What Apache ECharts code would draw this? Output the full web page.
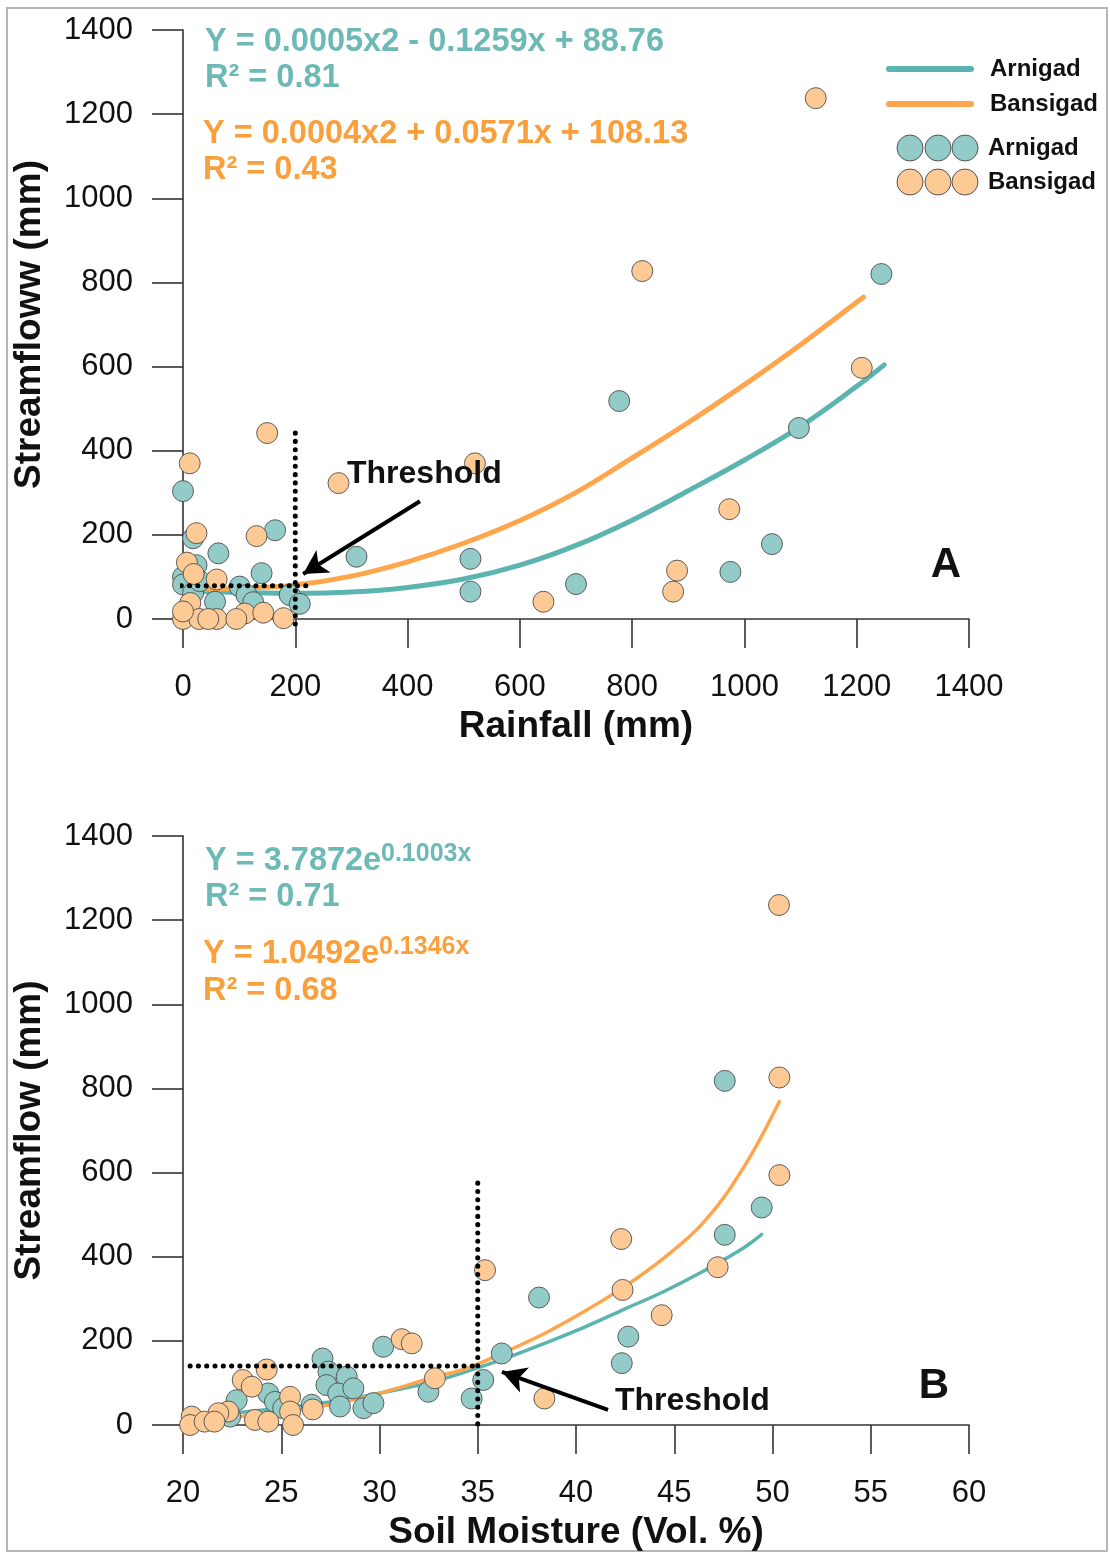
<!DOCTYPE html>
<html><head><meta charset="utf-8">
<script src="https://cdn.jsdelivr.net/npm/echarts@6/dist/echarts.min.js"></script>
<style>html,body{margin:0;padding:0;background:#fff}#c{width:1110px;height:1553px}</style>
</head><body><div id="c"></div>
<script>
// ---------- DATA ----------
// Panel A: Rainfall (mm) vs Streamflow (mm)
const rainArnigad = [[0,304],[164,211],[18,192],[63,156],[24,128],[140,109],[0,100],[0,82],[101,77],[57,41],[113,57],[190,57],[208,36],[18,62],[125,40],[30,90],[309,148],[512,143],[512,65],[700,83],[777,518],[975,112],[1049,178],[1097,454],[1244,820]];
const rainBansigad = [[150,442],[12,370],[131,197],[24,204],[7,134],[19,107],[60,94],[13,38],[0,0],[29,0],[60,0],[110,13],[143,15],[179,2],[95,0],[0,18],[45,0],[277,323],[520,370],[642,41],[818,827],[873,65],[880,115],[973,261],[1127,1238],[1209,597]];
// Trend curves
const rainFitArnigad = [[0,66],[100,63],[200,61],[300,64],[400,75],[500,95],[600,128],[700,175],[800,235],[900,305],[1000,378],[1100,458],[1200,553],[1249,604]];
const rainFitBansigad = [[0,70],[100,73],[200,81],[300,102],[400,136],[500,180],[600,234],[700,301],[800,383],[900,467],[1000,557],[1100,652],[1200,753],[1212,765]];
// Panel B: Soil moisture (Vol. %) vs Streamflow (mm)
const smArnigad = [[30.19,186],[27.1,158],[27.4,127],[28.33,115],[27.3,95],[24.34,75],[22.73,59],[24.68,55],[27.9,75],[28.67,87],[27.99,44],[29.18,40],[29.69,52],[26.55,48],[32.49,79],[35.28,107],[34.69,63],[36.22,170],[22.4,20],[25.1,40],[47.57,818],[49.45,517],[47.57,452],[38.12,303],[42.66,210],[42.33,147]];
const smBansigad = [[35.37,368],[31.13,204],[31.64,194],[24.26,132],[23.04,107],[23.5,91],[25.45,67],[32.82,111],[26.6,37],[25.45,32],[22.3,32],[21.8,28],[20.44,20],[20.36,0],[21.1,8],[21.6,8],[23.66,12],[24.34,8],[25.6,0],[50.35,826],[50.35,594],[42.3,442],[42.37,321],[44.36,261],[47.21,375],[38.39,63],[50.33,1236]];
const smFitArnigad = [[22.5,28],[24.5,38],[26.5,49],[28.5,62],[30.5,80],[32.5,100],[34.5,128],[36.5,160],[38.5,196],[40.5,234],[42.5,276],[44.5,318],[46.5,366],[48.5,420],[49.45,453]];
const smFitBansigad = [[20.3,12],[22.5,19],[24.5,27],[26.5,40],[28.5,58],[30.5,82],[32.5,110],[34.5,136],[36.5,176],[38.5,220],[40.5,272],[42.5,330],[44.5,398],[46.5,482],[48.5,610],[50.35,769]];
// Threshold guides and arrows (axis units)
const thrAh = [[-18,79],[226,79]];
const thrAv = [[200,442],[200,-16]];
const arrowA = [[422,280],[214,107]];
const thrBh = [[20.36,140],[35,140]];
const thrBv = [[35,575],[35,-16]];
const arrowB = [[41.63,36],[36.23,126]];
// Ticks
const rainTicks = {min:0, max:1400, interval:200};
const smTicks = {min:20, max:60, interval:5};
const flowTicks = {min:0, max:1400, interval:200};

// ---------- STYLE ----------
const FONT = '"Liberation Sans", Arial, sans-serif';
const TEAL_FILL = '#93cbc8', ORANGE_FILL = '#fdca95';
const TEAL_LINE = '#5cb4b0', ORANGE_LINE = '#ffa54c';
const TEAL_TXT = '#6cb9b5', ORANGE_TXT = '#f9a03c';
const plain = v => String(v);

function xAx(grid, t, name){
  return {type:'value', gridIndex:grid, min:t.min, max:t.max, interval:t.interval,
    name:name, nameLocation:'middle', nameGap:89,
    nameTextStyle:{fontSize:37, fontWeight:'bold', color:'#111', fontFamily:FONT},
    axisLine:{show:true, onZero:false, lineStyle:{color:'#333', width:1.6}},
    axisTick:{show:true, length:29, lineStyle:{color:'#333', width:1.6}},
    axisLabel:{fontSize:31, color:'#111', fontFamily:FONT, margin:53, formatter:plain},
    splitLine:{show:false}};
}
function yAx(grid, t, name){
  return {type:'value', gridIndex:grid, min:t.min, max:t.max, interval:t.interval,
    name:name, nameLocation:'middle', nameGap:135, nameRotate:90,
    nameTextStyle:{fontSize:37, fontWeight:'bold', color:'#111', fontFamily:FONT},
    axisLine:{show:true, onZero:false, lineStyle:{color:'#333', width:1.6}},
    axisTick:{show:true, length:31, lineStyle:{color:'#333', width:1.6}},
    axisLabel:{fontSize:31, color:'#111', fontFamily:FONT, margin:50, formatter:plain},
    splitLine:{show:false}};
}
function fit(idx, data, color, w){
  return {type:'line', xAxisIndex:idx, yAxisIndex:idx, data:data, smooth:0.4, showSymbol:false,
    symbol:'none', clip:false, z:2, lineStyle:{color:color, width:w, cap:'round'}, silent:true};
}
function pts(idx, data, fill){
  return {type:'scatter', xAxisIndex:idx, yAxisIndex:idx, data:data, symbolSize:21, clip:false, z:3,
    itemStyle:{color:fill, borderColor:'#4d4d4d', borderWidth:0.9, opacity:1}};
}
function dotted(idx, data, extra){
  const s = {type:'line', xAxisIndex:idx, yAxisIndex:idx, data:data, showSymbol:false, symbol:'none',
    clip:false, z:5, silent:true, lineStyle:{color:'#000', width:5, type:[0.1,8.2], cap:'round'}};
  if (extra) s.markLine = {silent:true, symbol:['none','arrow'], symbolSize:[20,24], animation:false,
    label:{show:false}, lineStyle:{color:'#000', width:4, type:'solid'},
    data:[[{coord:extra[0]},{coord:extra[1]}]]};
  return s;
}
function txt(x, y, s, font, fill, align){
  return {type:'text', x:x, y:y, z:10, style:{text:s, font:font, fill:fill, verticalAlign:'middle', align:align||'left'}};
}
const B32 = 'bold 32.5px ' + FONT;
const B25 = 'bold 25px ' + FONT;
const B24 = 'bold 24px ' + FONT;

const option = {
  animation:false,
  backgroundColor:'#fff',
  grid:[
    {left:183, top:30, width:786, height:589, outerBoundsMode:'none', containLabel:false},
    {left:183, top:836, width:786, height:589, outerBoundsMode:'none', containLabel:false}
  ],
  xAxis:[xAx(0, rainTicks, 'Rainfall (mm)'), xAx(1, smTicks, 'Soil Moisture (Vol. %)')],
  yAxis:[yAx(0, flowTicks, 'Streamfloww (mm)'), yAx(1, flowTicks, 'Streamflow (mm)')],
  series:[
    fit(0, rainFitArnigad, TEAL_LINE, 5),
    fit(0, rainFitBansigad, ORANGE_LINE, 5),
    pts(0, rainArnigad, TEAL_FILL),
    pts(0, rainBansigad, ORANGE_FILL),
    dotted(0, thrAh, arrowA),
    dotted(0, thrAv),
    fit(1, smFitArnigad, TEAL_LINE, 3.5),
    fit(1, smFitBansigad, ORANGE_LINE, 3.5),
    pts(1, smArnigad, TEAL_FILL),
    pts(1, smBansigad, ORANGE_FILL),
    dotted(1, thrBh, arrowB),
    dotted(1, thrBv)
  ],
  graphic:[
    {type:'rect', z:-10, shape:{x:7, y:8, width:1100, height:1543}, style:{fill:'none', stroke:'#b5b5b5', lineWidth:2}},
    // Panel A equations
    txt(205, 42, 'Y = 0.0005x2 - 0.1259x + 88.76', B32, TEAL_TXT),
    txt(205, 78, 'R² = 0.81', B32, TEAL_TXT),
    txt(203, 134, 'Y = 0.0004x2 + 0.0571x + 108.13', B32, ORANGE_TXT),
    txt(203, 170, 'R² = 0.43', B32, ORANGE_TXT),
    // Panel B equations
    txt(205, 861, 'Y = 3.7872e', B32, TEAL_TXT),
    txt(381, 854, '0.1003x', B25, TEAL_TXT),
    txt(205, 897, 'R² = 0.71', B32, TEAL_TXT),
    txt(203, 954, 'Y = 1.0492e', B32, ORANGE_TXT),
    txt(379, 947, '0.1346x', B25, ORANGE_TXT),
    txt(203, 991, 'R² = 0.68', B32, ORANGE_TXT),
    // Panel labels
    txt(946, 565, 'A', 'bold 42px ' + FONT, '#111', 'center'),
    txt(934, 1386, 'B', 'bold 42px ' + FONT, '#111', 'center'),
    // Threshold labels
    txt(347, 474, 'Threshold', 'bold 32px ' + FONT, '#111'),
    txt(615, 1401, 'Threshold', 'bold 32px ' + FONT, '#111'),
    // Legend
    {type:'line', z:10, shape:{x1:889, y1:69, x2:971, y2:69}, style:{stroke:TEAL_LINE, lineWidth:6, lineCap:'round'}},
    {type:'line', z:10, shape:{x1:889, y1:104, x2:971, y2:104}, style:{stroke:ORANGE_LINE, lineWidth:6, lineCap:'round'}},
    txt(990, 69, 'Arnigad', B24, '#111'),
    txt(990, 104, 'Bansigad', B24, '#111'),
    {type:'circle', z:10, shape:{cx:910, cy:148, r:13}, style:{fill:TEAL_FILL, stroke:'#555', lineWidth:1}},
    {type:'circle', z:10, shape:{cx:938, cy:148, r:13}, style:{fill:TEAL_FILL, stroke:'#555', lineWidth:1}},
    {type:'circle', z:10, shape:{cx:965, cy:148, r:13}, style:{fill:TEAL_FILL, stroke:'#555', lineWidth:1}},
    {type:'circle', z:10, shape:{cx:910, cy:182, r:13}, style:{fill:ORANGE_FILL, stroke:'#555', lineWidth:1}},
    {type:'circle', z:10, shape:{cx:938, cy:182, r:13}, style:{fill:ORANGE_FILL, stroke:'#555', lineWidth:1}},
    {type:'circle', z:10, shape:{cx:965, cy:182, r:13}, style:{fill:ORANGE_FILL, stroke:'#555', lineWidth:1}},
    txt(988, 148, 'Arnigad', B24, '#111'),
    txt(988, 182, 'Bansigad', B24, '#111')
  ]
};
const chart = echarts.init(document.getElementById('c'), null, {renderer:'canvas'});
chart.setOption(option);
</script>
</body></html>
